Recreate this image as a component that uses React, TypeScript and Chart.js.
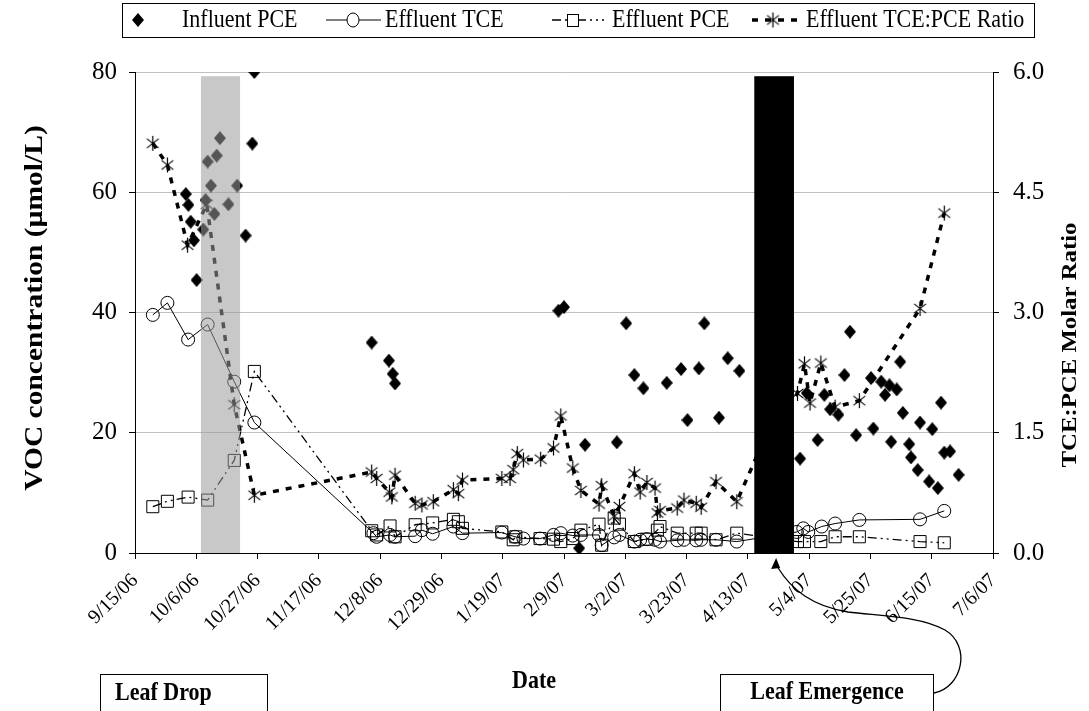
import React, { useEffect, useRef } from 'react';
import { Chart, registerables } from 'chart.js';

Chart.register(...registerables);

// ---------- tick labels (x axis: days since 9/15/06, every 21 days) ----------
const xTickLabels = ['9/15/06', '10/6/06', '10/27/06', '11/17/06', '12/8/06', '12/29/06', '1/19/07', '2/9/07', '3/2/07', '3/23/07', '4/13/07', '5/4/07', '5/25/07', '6/15/07', '7/6/07'];
const xTickStep = 21;
const xMax = 294;

// ---------- Influent PCE (µmol/L) ----------
const influentDays = [17.4, 18.3, 19.1, 20.2, 21.1, 23.4, 24.2, 24.9, 26.0, 27.2, 28.0, 29.1, 32.0, 35.0, 37.9, 40.2, 40.9,
  81.1, 87.0, 88.3, 89.1,
  145.1, 147.0, 152.2, 154.2, 165.1, 168.3, 171.1, 174.2, 182.2, 187.1, 189.3, 193.2, 195.1, 200.1, 203.1, 207.1,
  227.9, 230.2, 233.9, 236.2, 238.2, 241.0, 243.1, 245.0, 247.1, 252.2, 253.0, 255.7, 257.0, 258.5, 259.1, 261.0, 262.2, 263.1, 265.3, 265.9, 268.2, 269.0, 272.1, 273.2, 275.1, 276.2, 277.3, 279.3, 282.2];
const influentPCE = [59.7, 57.9, 55.1, 52.0, 45.4, 53.8, 58.7, 65.1, 61.1, 56.4, 66.1, 69.0, 58.0, 61.1, 52.8, 68.1, 80.0,
  35.0, 32.0, 29.8, 28.2,
  40.3, 40.9, 0.8, 18.0, 18.4, 38.2, 29.6, 27.4, 28.3, 30.6, 22.1, 30.7, 38.2, 22.5, 32.4, 30.3,
  15.7, 26.6, 18.8, 26.3, 23.9, 23.0, 29.6, 36.8, 19.6, 29.1, 20.7, 28.5, 26.3, 27.9, 18.5, 27.2, 31.8, 23.3, 18.1, 15.9, 13.8, 21.7, 11.9, 20.6, 10.8, 25.0, 16.7, 16.9, 13.0];

// ---------- Effluent TCE (µmol/L) ----------
const tceDays = [6.1, 11.1, 18.2, 24.9, 34.0, 40.9, 81.7, 82.8, 87.4, 89.1, 96.0, 98.3, 102.0, 109.1, 112.2, 125.7, 130.2, 133.1, 138.8, 143.4, 145.9, 150.0, 152.8, 159.0, 159.9, 164.2, 166.0, 171.1, 173.1, 175.4, 178.2, 179.9, 185.8, 188.1, 192.3, 194.0, 199.1, 206.2, 226.8, 229.0, 230.7, 235.3, 239.9, 248.2, 269.0, 277.3];
const effluentTCE = [39.6, 41.6, 35.5, 38.0, 28.5, 21.7, 3.3, 2.7, 3.0, 2.7, 2.8, 3.8, 3.2, 4.4, 3.3, 3.4, 2.7, 2.4, 2.4, 3.0, 3.3, 2.9, 3.0, 3.0, 1.3, 2.6, 3.0, 1.9, 2.2, 2.3, 2.2, 1.9, 2.1, 2.2, 2.1, 2.2, 2.2, 1.9, 3.5, 4.1, 3.5, 4.4, 4.9, 5.5, 5.6, 7.0];

// ---------- Effluent PCE (µmol/L) ----------
const pceDays = [6.1, 11.1, 18.2, 24.9, 34.0, 40.9, 81.1, 82.8, 87.4, 89.1, 96.0, 102.0, 109.1, 110.8, 112.2, 125.7, 129.6, 130.5, 138.8, 143.4, 145.9, 150.0, 152.8, 159.0, 159.9, 164.2, 166.0, 171.1, 175.4, 179.0, 179.9, 185.8, 192.3, 194.0, 199.1, 206.2, 227.0, 229.4, 235.0, 239.9, 248.2, 269.0, 277.3];
const effluentPCE = [7.7, 8.6, 9.3, 8.8, 15.4, 30.2, 3.7, 3.0, 4.5, 2.7, 4.7, 5.0, 5.6, 5.2, 4.1, 3.5, 2.2, 2.7, 2.4, 2.3, 1.9, 2.4, 3.8, 4.8, 1.3, 5.8, 4.8, 1.9, 2.3, 3.8, 4.4, 3.3, 3.3, 3.3, 2.2, 3.3, 1.9, 1.9, 1.9, 2.7, 2.7, 1.9, 1.7];

// ---------- Effluent TCE:PCE molar ratio ----------
const ratioDays = [6.1, 11.1, 18.0, 24.6, 34.0, 40.9, 81.1, 82.8, 87.2, 88.0, 89.1, 96.0, 98.3, 102.2, 109.1, 110.8, 112.2, 125.7, 128.5, 129.6, 131.0, 133.1, 139.0, 143.4, 145.9, 150.0, 152.8, 159.0, 159.9, 164.2, 166.0, 171.1, 173.1, 175.4, 178.2, 179.0, 179.9, 185.8, 188.1, 192.3, 194.0, 199.1, 206.2, 216.0, 227.0, 229.4, 231.3, 235.0, 239.9, 248.2, 269.0, 277.3];
const tcePceRatio = [5.11, 4.84, 3.84, 4.35, 1.85, 0.72, 1.01, 0.93, 0.76, 0.70, 0.97, 0.62, 0.60, 0.64, 0.79, 0.74, 0.91, 0.93, 0.93, 1.04, 1.24, 1.16, 1.17, 1.31, 1.71, 1.06, 0.78, 0.61, 0.84, 0.46, 0.58, 0.99, 0.76, 0.88, 0.81, 0.50, 0.53, 0.56, 0.66, 0.62, 0.57, 0.89, 0.64, 1.45, 1.99, 2.36, 1.87, 2.37, 1.82, 1.90, 3.05, 4.24];

// ---------- shaded periods (days) ----------
const leafDropBand = { start: 22.6, end: 36.0, top: 79.3 };
const leafEmergeBand = { start: 212.2, end: 225.8, top: 79.3 };

const legendLabels = ['Influent PCE', 'Effluent TCE', 'Effluent PCE', 'Effluent TCE:PCE Ratio'];
const annotationLabels = ['Leaf Drop', 'Leaf Emergence'];
const yTitle = 'VOC concentration (µmol/L)';
const y1Title = 'TCE:PCE Molar Ratio';
const xTitle = 'Date';

const FONT = "'Liberation Serif', 'Times New Roman', serif";
const STRETCH = 1.18;

const pairs = (xs: number[], ys: number[]) => xs.map((x, i) => ({ x, y: ys[i] }));

function makeStar(size: number, lw: number): HTMLCanvasElement {
  const c = document.createElement('canvas');
  c.width = size;
  c.height = size;
  const g = c.getContext('2d')!;
  g.strokeStyle = '#000';
  g.lineWidth = lw;
  const cx = size / 2;
  const r = size / 2 - 1;
  [90, 38, 142].forEach((a) => {
    const rad = (a * Math.PI) / 180;
    g.beginPath();
    g.moveTo(cx - r * Math.cos(rad), cx - r * Math.sin(rad));
    g.lineTo(cx + r * Math.cos(rad), cx + r * Math.sin(rad));
    g.stroke();
  });
  return c;
}

function makeDiamond(w: number, h: number): HTMLCanvasElement {
  const c = document.createElement('canvas');
  c.width = w;
  c.height = h;
  const g = c.getContext('2d')!;
  g.fillStyle = '#000';
  g.beginPath();
  g.moveTo(w / 2, 0);
  g.lineTo(w, h / 2);
  g.lineTo(w / 2, h);
  g.lineTo(0, h / 2);
  g.closePath();
  g.fill();
  return c;
}

function drawText(ctx: CanvasRenderingContext2D, str: string, x: number, y: number, font: string, align: CanvasTextAlign, rot = 0) {
  ctx.save();
  ctx.translate(x, y);
  ctx.scale(1, STRETCH);
  ctx.rotate(rot);
  ctx.font = font;
  ctx.fillStyle = '#000';
  ctx.textAlign = align;
  ctx.textBaseline = 'middle';
  ctx.fillText(str, 0, 0);
  ctx.restore();
}

export default function App() {
  const ref = useRef<HTMLCanvasElement>(null);

  useEffect(() => {
    if (!ref.current) return;
    const star = makeStar(17, 1.2);
    const diamond = makeDiamond(12, 14);

    const overlay = {
      id: 'overlay',
      afterDatasetsDraw(chart: any) {
        const { ctx, scales } = chart;
        const x = scales.x;
        const y = scales.y;
        const draw = (b: { start: number; end: number; top: number }, color: string) => {
          const x0 = x.getPixelForValue(b.start);
          const x1 = x.getPixelForValue(b.end);
          const yt = y.getPixelForValue(b.top);
          const yb = y.getPixelForValue(0);
          ctx.save();
          ctx.fillStyle = color;
          ctx.fillRect(x0, yt, x1 - x0, yb - yt);
          ctx.restore();
        };
        draw(leafDropBand, 'rgba(155,155,155,0.55)');
        draw(leafEmergeBand, '#000');
      },
      afterDraw(chart: any) {
        const { ctx, scales } = chart;
        const x = scales.x;
        const y = scales.y;
        const area = chart.chartArea;

        // ----- legend -----
        ctx.save();
        ctx.strokeStyle = '#000';
        ctx.lineWidth = 1;
        ctx.strokeRect(122.5, 3.5, 912, 34);
        const ly = 20;
        const lf = `22px ${FONT}`;
        // 1: diamond
        ctx.drawImage(diamond, 138 - 6, ly - 7);
        drawText(ctx, legendLabels[0], 182, ly, lf, 'left');
        // 2: solid line + circle
        ctx.beginPath();
        ctx.lineWidth = 1;
        ctx.setLineDash([]);
        ctx.moveTo(326, ly);
        ctx.lineTo(381, ly);
        ctx.stroke();
        ctx.beginPath();
        ctx.fillStyle = '#fff';
        ctx.ellipse(353, ly, 6, 7, 0, 0, Math.PI * 2);
        ctx.fill();
        ctx.stroke();
        drawText(ctx, legendLabels[1], 385, ly, lf, 'left');
        // 3: dash-dot-dot + square
        ctx.beginPath();
        ctx.lineWidth = 1.5;
        ctx.setLineDash([9, 4, 2, 4, 2, 4]);
        ctx.moveTo(552, ly);
        ctx.lineTo(604, ly);
        ctx.stroke();
        ctx.setLineDash([]);
        ctx.lineWidth = 1;
        ctx.fillStyle = '#fff';
        ctx.fillRect(567, ly - 6, 12, 12);
        ctx.strokeRect(567.5, ly - 5.5, 11, 12);
        drawText(ctx, legendLabels[2], 612, ly, lf, 'left');
        // 4: thick dashed + star
        ctx.beginPath();
        ctx.lineWidth = 3.5;
        ctx.setLineDash([6, 7]);
        ctx.moveTo(752, ly);
        ctx.lineTo(800, ly);
        ctx.stroke();
        ctx.setLineDash([]);
        ctx.drawImage(star, 773 - 8.5, ly - 8.5);
        drawText(ctx, legendLabels[3], 806, ly, lf, 'left');
        ctx.restore();

        // ----- axis titles -----
        drawText(ctx, yTitle, 36, 308, `bold 25px ${FONT}`, 'center', -Math.PI / 2);
        drawText(ctx, y1Title, 1071, 345, `bold 21px ${FONT}`, 'center', -Math.PI / 2);
        drawText(ctx, xTitle, (area.left + area.right) / 2 - 30, 681, `bold 22px ${FONT}`, 'center');

        // ----- annotation boxes -----
        ctx.save();
        ctx.strokeStyle = '#000';
        ctx.lineWidth = 1;
        ctx.strokeRect(100.5, 674.5, 167, 50);
        ctx.strokeRect(720.5, 674.5, 213, 50);
        ctx.restore();
        drawText(ctx, annotationLabels[0], 115, 693, `bold 22px ${FONT}`, 'left');
        drawText(ctx, annotationLabels[1], 827, 692, `bold 22px ${FONT}`, 'center');

        // ----- curved arrow to leaf emergence band -----
        const tipX = x.getPixelForValue((leafEmergeBand.start + leafEmergeBand.end) / 2) + 2;
        const tipY = y.getPixelForValue(0) + 5;
        ctx.save();
        ctx.strokeStyle = '#000';
        ctx.lineWidth = 1.3;
        ctx.beginPath();
        ctx.moveTo(934, 693);
        ctx.bezierCurveTo(962, 688, 972, 646, 945, 630);
        ctx.bezierCurveTo(920, 616, 880, 616, 848, 612);
        ctx.bezierCurveTo(812, 606, 792, 590, tipX + 2, tipY + 10);
        ctx.stroke();
        ctx.fillStyle = '#000';
        ctx.beginPath();
        ctx.moveTo(tipX, tipY);
        ctx.lineTo(tipX - 5, tipY + 11);
        ctx.lineTo(tipX + 4, tipY + 10);
        ctx.closePath();
        ctx.fill();
        ctx.restore();
      },
    };

    const chart = new Chart(ref.current, {
      type: 'scatter',
      data: {
        datasets: [
          {
            label: legendLabels[3],
            data: pairs(ratioDays, tcePceRatio),
            yAxisID: 'y1',
            showLine: true,
            borderColor: '#000',
            borderWidth: 3.5,
            borderDash: [6, 7],
            pointStyle: star,
            pointRadius: 8,
          },
          {
            label: legendLabels[2],
            data: pairs(pceDays, effluentPCE),
            yAxisID: 'y',
            showLine: true,
            borderColor: '#000',
            borderWidth: 1.3,
            borderDash: [9, 4, 2, 4, 2, 4],
            pointStyle: 'rect',
            pointRadius: 8.5,
            pointBorderWidth: 1,
            pointBorderColor: '#000',
            pointBackgroundColor: 'rgba(0,0,0,0)',
          },
          {
            label: legendLabels[1],
            data: pairs(tceDays, effluentTCE),
            yAxisID: 'y',
            showLine: true,
            borderColor: '#000',
            borderWidth: 1,
            pointStyle: 'circle',
            pointRadius: 6.5,
            pointBorderWidth: 1,
            pointBorderColor: '#000',
            pointBackgroundColor: 'rgba(0,0,0,0)',
          },
          {
            label: legendLabels[0],
            data: pairs(influentDays, influentPCE),
            yAxisID: 'y',
            showLine: false,
            pointStyle: diamond,
            pointRadius: 6,
          },
        ],
      },
      options: {
        animation: false,
        responsive: false,
        layout: { padding: { top: 72, left: 0, right: 0, bottom: 0 } },
        plugins: { legend: { display: false }, tooltip: { enabled: false } },
        scales: {
          x: {
            type: 'linear',
            min: 0,
            max: xMax,
            afterFit: (s: any) => { s.height = 158; },
            border: { color: '#000', width: 1 },
            grid: { drawOnChartArea: false, drawTicks: true, tickLength: 6, tickColor: '#000' },
            ticks: {
              stepSize: xTickStep,
              autoSkip: false,
              minRotation: 45,
              maxRotation: 45,
              padding: 10,
              color: '#000',
              font: { family: FONT, size: 20 },
              callback: (v: any) => xTickLabels[Math.round(Number(v) / xTickStep)] ?? '',
            },
          },
          y: {
            position: 'left',
            min: 0,
            max: 80,
            afterFit: (s: any) => { s.width = 135; },
            border: { color: '#000', width: 1 },
            grid: {
              color: (c: any) => (c.tick && c.tick.value === 0 ? 'rgba(0,0,0,0)' : '#c0c0c0'),
              tickLength: 6,
              tickColor: '#000',
            },
            ticks: { stepSize: 20, padding: 12, color: '#000', font: { family: FONT, size: 25 } },
          },
          y1: {
            position: 'right',
            min: 0,
            max: 6,
            afterFit: (s: any) => { s.width = 96; },
            border: { color: '#000', width: 1 },
            grid: { drawOnChartArea: false, tickLength: 6, tickColor: '#000' },
            ticks: {
              stepSize: 1.5,
              padding: 14,
              color: '#000',
              font: { family: FONT, size: 25 },
              callback: (v: any) => Number(v).toFixed(1),
            },
          },
        },
      },
      plugins: [overlay],
    } as any);

    return () => chart.destroy();
  }, []);

  return (
    <div style={{ position: 'fixed', left: 0, top: 0, width: 1089, height: 711, background: '#fff' }}>
      <canvas ref={ref} width={1089} height={711} style={{ display: 'block' }} />
    </div>
  );
}
